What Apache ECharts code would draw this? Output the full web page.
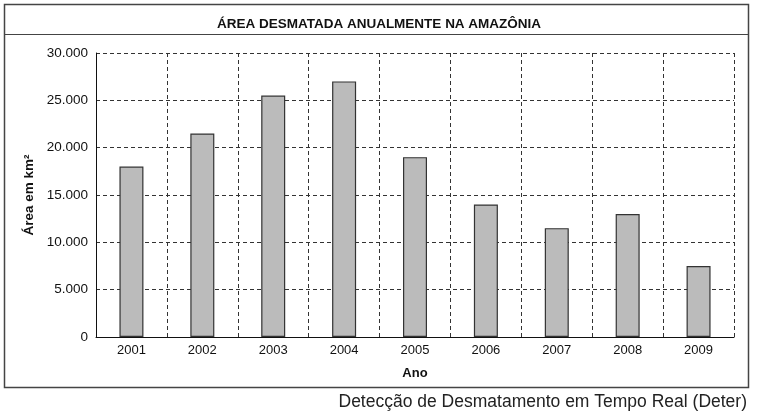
<!DOCTYPE html>
<html>
<head>
<meta charset="utf-8">
<script src="https://cdn.jsdelivr.net/npm/echarts@6/dist/echarts.min.js"></script>
<style>
html,body{margin:0;padding:0;background:#fff;}
#chart{width:758px;height:418px;}
</style>
</head>
<body>
<div id="chart"></div>
<script>
const categories = ['2001','2002','2003','2004','2005','2006','2007','2008','2009'];
const areaValues = [18000, 21500, 25500, 27000, 19000, 14000, 11500, 13000, 7500];
const yTicks = [0, 5000, 10000, 15000, 20000, 25000, 30000];
const titleText = 'ÁREA DESMATADA ANUALMENTE NA AMAZÔNIA';
const yAxisName = 'Área em km²';
const xAxisName = 'Ano';
const sourceText = 'Detecção de Desmatamento em Tempo Real (Deter)';

function fmt(v){ return String(v).replace(/\B(?=(\d{3})+(?!\d))/g, '.'); }

const chart = echarts.init(document.getElementById('chart'), null, {renderer:'canvas'});
const font = 'Liberation Sans, Arial, sans-serif';
chart.setOption({
  animation:false,
  backgroundColor:'#fff',
  title:{
    text:titleText, left:'center', top:12,
    textStyle:{fontFamily:font, fontSize:13.5, fontWeight:'bold', color:'#111'}
  },
  graphic:[
    {type:'rect', shape:{x:4.5, y:4.5, width:744, height:383}, style:{fill:'none', stroke:'#444', lineWidth:1.5}, z:10},
    {type:'line', shape:{x1:4.5, y1:34.5, x2:748.5, y2:34.5}, style:{stroke:'#444', lineWidth:1.2}, z:10},
    {type:'text', right:11, top:393, style:{text:sourceText, fontFamily:font, fontSize:17.5, fill:'#222'}}
  ],
  grid:{left:96, right:24, top:53, bottom:81},
  xAxis:{
    type:'category', data:categories, boundaryGap:true,
    name:xAxisName, nameLocation:'middle', nameGap:30,
    nameTextStyle:{fontFamily:font, fontSize:13, fontWeight:'bold', color:'#111'},
    axisLine:{show:true, lineStyle:{color:'#111', width:1}},
    axisTick:{show:false},
    axisLabel:{fontFamily:font, fontSize:13, color:'#111', margin:7},
    splitLine:{show:true, lineStyle:{color:'#333', width:1, type:[4,3]}}
  },
  yAxis:{
    type:'value', min:0, max:30000, interval:5000,
    name:yAxisName, nameLocation:'middle', nameGap:57, nameRotate:90,
    nameTextStyle:{fontFamily:font, fontSize:13.5, fontWeight:'bold', color:'#111'},
    axisLine:{show:true, lineStyle:{color:'#111', width:1}},
    axisTick:{show:false},
    axisLabel:{fontFamily:font, fontSize:13.5, color:'#111', margin:8, formatter:v=>fmt(v)},
    splitLine:{show:true, lineStyle:{color:'#333', width:1, type:[4,3]}}
  },
  series:[{
    type:'bar', data:areaValues, barWidth:24,
    itemStyle:{color:'#bbbbbb', borderColor:'#333', borderWidth:1.2}
  }]
});
</script>
</body>
</html>
